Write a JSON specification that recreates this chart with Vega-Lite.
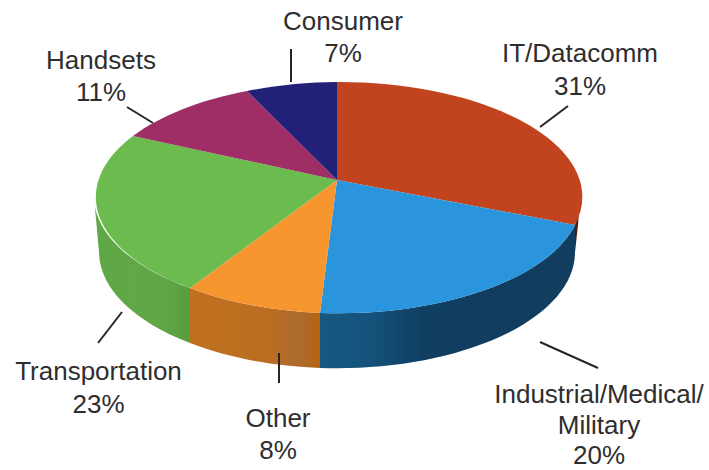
{"$schema":"https://vega.github.io/schema/vega-lite/v6.json","width":709,"height":470,"padding":0,"autosize":{"type":"none"},"background":"white","view":{"stroke":null},"config":{"axis":{"title":null}},
"data":{"values":[
{"segment":"IT/Datacomm","share":31,"label":"IT/Datacomm\n31%"},
{"segment":"Industrial/Medical/Military","share":20,"label":"Industrial/Medical/\nMilitary\n20%"},
{"segment":"Other","share":8,"label":"Other\n8%"},
{"segment":"Transportation","share":23,"label":"Transportation\n23%"},
{"segment":"Handsets","share":11,"label":"Handsets\n11%"},
{"segment":"Consumer","share":7,"label":"Consumer\n7%"}]},
"encoding":{
"x":{"datum":337,"type":"quantitative","scale":{"domain":[0,709],"range":[0,709]},"axis":null},
"y":{"datum":180,"type":"quantitative","scale":{"domain":[0,470],"range":[0,470]},"axis":null}},
"resolve":{"scale":{"shape":"independent"}},
"layer":[
{"transform":[{"filter":"datum.segment==='IT/Datacomm'"}],"mark":{"type":"point","filled":true,"opacity":1,"size":4,"strokeWidth":0,"fill":"#4a1c12","shape":"M243,17 A243,115 0 0 1 238,45 L238,72 L241,45 Z"}},
{"transform":[{"filter":"datum.segment==='Industrial/Medical/Military'"}],"mark":{"type":"point","filled":true,"opacity":1,"size":4,"strokeWidth":0,"shape":"M238,45 A243,115 0 0 1 -17,133 L-17,188 A238,116 0 0 0 238,72 Z","fill":{"gradient":"linear","x1":0,"x2":1,"y1":0,"y2":0,"stops":[{"offset":0,"color":"#15587f"},{"offset":0.2,"color":"#15527b"},{"offset":0.4,"color":"#103e61"},{"offset":1,"color":"#113d5e"}]}}},
{"transform":[{"filter":"datum.segment==='Other'"}],"mark":{"type":"point","filled":true,"opacity":1,"size":4,"strokeWidth":0,"shape":"M-17,133 A243,115 0 0 1 -147,108 L-147,163 A238,116 0 0 0 -17,188 Z","fill":{"gradient":"linear","x1":0,"x2":1,"y1":0,"y2":0,"stops":[{"offset":0,"color":"#c0701f"},{"offset":0.6,"color":"#bb6d20"},{"offset":0.85,"color":"#ab6a2c"},{"offset":1,"color":"#b8640f"}]}}},
{"transform":[{"filter":"datum.segment==='Transportation'"}],"mark":{"type":"point","filled":true,"opacity":1,"size":4,"strokeWidth":0,"shape":"M-147,108 A243,115 0 0 1 -243,17 L-238,72 A238,116 0 0 0 -147,163 Z","fill":{"gradient":"linear","x1":0,"x2":1,"y1":0,"y2":0,"stops":[{"offset":0,"color":"#5fa846"},{"offset":0.7,"color":"#62a747"},{"offset":1,"color":"#579d3e"}]}}},
{"mark":{"type":"point","filled":true,"opacity":1,"size":4,"strokeWidth":0},
"encoding":{
"shape":{"field":"segment","type":"nominal","legend":null,"scale":{"domain":["IT/Datacomm","Industrial/Medical/Military","Other","Transportation","Handsets","Consumer"],"range":["M0,0 L0,-98 A243,115 0 0 1 238,45 Z","M0,0 L238,45 A243,115 0 0 1 -17,133 Z","M0,0 L-17,133 A243,115 0 0 1 -147,108 Z","M0,0 L-147,108 A243,115 0 0 1 -204,-44 Z","M0,0 L-204,-44 A243,115 0 0 1 -90,-89 Z","M0,0 L-90,-89 A243,115 0 0 1 0,-98 Z"]}},
"color":{"field":"segment","type":"nominal","legend":null,"scale":{"domain":["IT/Datacomm","Industrial/Medical/Military","Other","Transportation","Handsets","Consumer"],"range":["#c2441f","#2a94dd","#f7952e","#6cbb4f","#9e2e65","#232077"]}}}},
{"mark":{"type":"point","filled":false,"opacity":1,"size":4,"strokeWidth":2,"color":"#262626"},
"encoding":{
"shape":{"field":"segment","type":"nominal","legend":null,"scale":{"domain":["IT/Datacomm","Industrial/Medical/Military","Other","Transportation","Handsets","Consumer"],"range":["M231,-74 L203,-53","M203,162 L261,188","M-58,173 L-58,203","M-215,132 L-239,163","M-210,-73 L-184,-57","M-46,-131 L-46,-98"]}}}},
{"transform":[{"filter":"datum.segment==='IT/Datacomm'"}],"mark":{"type":"text","font":"Liberation Sans","fontSize":26,"lineHeight":33,"lineBreak":"\n","color":"#2e2e2e","align":"center","baseline":"alphabetic"},"encoding":{"text":{"field":"label"},"x":{"datum":580,"type":"quantitative","scale":{"domain":[0,709],"range":[0,709]},"axis":null},"y":{"datum":62,"type":"quantitative","scale":{"domain":[0,470],"range":[0,470]},"axis":null}}},
{"transform":[{"filter":"datum.segment==='Industrial/Medical/Military'"}],"mark":{"type":"text","font":"Liberation Sans","fontSize":26,"lineHeight":30.5,"lineBreak":"\n","color":"#2e2e2e","align":"center","baseline":"alphabetic"},"encoding":{"text":{"field":"label"},"x":{"datum":599,"type":"quantitative","scale":{"domain":[0,709],"range":[0,709]},"axis":null},"y":{"datum":403,"type":"quantitative","scale":{"domain":[0,470],"range":[0,470]},"axis":null}}},
{"transform":[{"filter":"datum.segment==='Other'"}],"mark":{"type":"text","font":"Liberation Sans","fontSize":26,"lineHeight":32,"lineBreak":"\n","color":"#2e2e2e","align":"center","baseline":"alphabetic"},"encoding":{"text":{"field":"label"},"x":{"datum":278,"type":"quantitative","scale":{"domain":[0,709],"range":[0,709]},"axis":null},"y":{"datum":427,"type":"quantitative","scale":{"domain":[0,470],"range":[0,470]},"axis":null}}},
{"transform":[{"filter":"datum.segment==='Transportation'"}],"mark":{"type":"text","font":"Liberation Sans","fontSize":26,"lineHeight":33,"lineBreak":"\n","color":"#2e2e2e","align":"center","baseline":"alphabetic"},"encoding":{"text":{"field":"label"},"x":{"datum":98.5,"type":"quantitative","scale":{"domain":[0,709],"range":[0,709]},"axis":null},"y":{"datum":380,"type":"quantitative","scale":{"domain":[0,470],"range":[0,470]},"axis":null}}},
{"transform":[{"filter":"datum.segment==='Handsets'"}],"mark":{"type":"text","font":"Liberation Sans","fontSize":26,"lineHeight":32,"lineBreak":"\n","color":"#2e2e2e","align":"center","baseline":"alphabetic"},"encoding":{"text":{"field":"label"},"x":{"datum":101,"type":"quantitative","scale":{"domain":[0,709],"range":[0,709]},"axis":null},"y":{"datum":69,"type":"quantitative","scale":{"domain":[0,470],"range":[0,470]},"axis":null}}},
{"transform":[{"filter":"datum.segment==='Consumer'"}],"mark":{"type":"text","font":"Liberation Sans","fontSize":26,"lineHeight":32,"lineBreak":"\n","color":"#2e2e2e","align":"center","baseline":"alphabetic"},"encoding":{"text":{"field":"label"},"x":{"datum":343,"type":"quantitative","scale":{"domain":[0,709],"range":[0,709]},"axis":null},"y":{"datum":30,"type":"quantitative","scale":{"domain":[0,470],"range":[0,470]},"axis":null}}}
]}
